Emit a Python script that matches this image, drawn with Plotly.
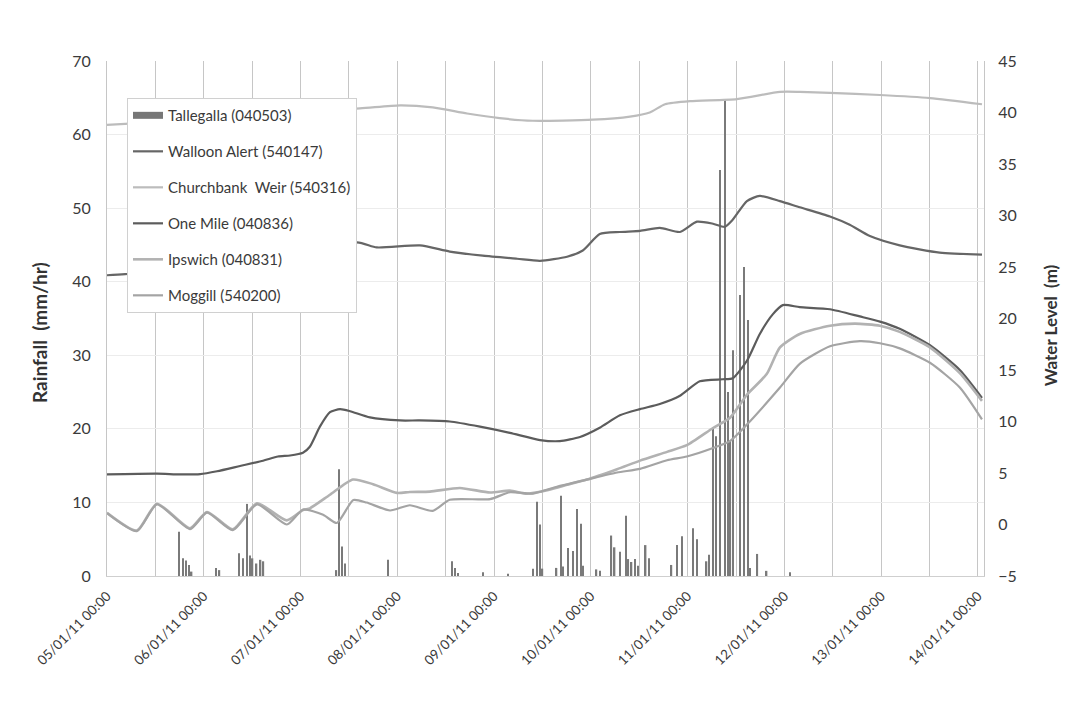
import pandas as pd
import plotly.graph_objects as go

# ---------------- data ----------------
T0 = pd.Timestamp("2011-01-05 00:00")

# Tallegalla rainfall (hours after 05/01/11 00:00, mm/hr)
rain_hours = [17.9, 18.8, 19.6, 20.3, 21.0, 27.1, 27.9, 32.8, 33.7, 34.8, 35.5, 36.1, 37.1, 38.1, 38.8,
              56.9, 57.6, 58.3, 59.0, 69.7, 85.5, 86.3, 87.1, 93.3, 99.4, 105.6, 106.6, 107.4, 108.0,
              111.5, 112.6, 113.1, 114.4, 115.5, 116.5, 117.5, 118.1, 121.4, 122.3, 125.1, 125.9, 127.2,
              128.7, 129.3, 130.1, 130.9, 131.7, 133.6, 134.4, 140.0, 141.3, 142.6, 145.4, 146.4, 148.7,
              149.3, 150.3, 151.0, 152.0, 153.2, 154.0, 154.6, 155.3, 157.0, 158.0, 159.0, 159.5, 161.3,
              163.6, 169.4]
rain_mm = [6.0, 2.4, 2.1, 1.5, 0.6, 1.1, 0.8, 3.1, 2.4, 9.8, 2.8, 2.4, 1.7, 2.2, 2.0,
           0.8, 14.5, 4.0, 1.7, 2.2, 2.0, 1.1, 0.4, 0.5, 0.3, 1.0, 10.1, 7.0, 1.0,
           1.1, 10.9, 1.3, 3.8, 3.4, 9.1, 7.1, 1.4, 0.9, 0.7, 5.5, 3.9, 3.3,
           8.2, 2.3, 1.9, 2.3, 1.4, 4.2, 2.4, 1.5, 4.2, 5.4, 6.5, 5.0, 2.0,
           2.9, 20.2, 19.0, 55.2, 64.8, 25.0, 18.4, 30.7, 38.2, 42.0, 34.8, 1.1, 3.0,
           0.7, 0.5]

# Walloon Alert (540147) water level (m)
walloon_hours = [0, 4.5, 62.0, 66.9, 77.6, 85.0, 93.2, 101.7, 107.4, 114.1, 118.0, 122.2, 127.2, 132.2,
                 137.1, 142.1, 146.3, 150.3, 153.2, 155.2, 158.7, 161.9, 166.9, 171.8, 179.3, 184.2,
                 189.2, 196.6, 206.5, 217.0]
walloon_m = [24.2, 24.3, 27.4, 26.9, 27.1, 26.5, 26.1, 25.8, 25.6, 26.0, 26.6, 28.2, 28.4, 28.5,
             28.8, 28.4, 29.4, 29.2, 28.9, 29.6, 31.4, 31.9, 31.4, 30.8, 29.9, 29.1,
             28.0, 27.1, 26.4, 26.2]

# Churchbank Weir (540316)
church_hours = [0, 4.5, 62.7, 72.7, 80.8, 89.3, 97.4, 105.6, 120.5, 129.7, 134.6, 138.4, 144.6, 156.2,
                166.9, 171.8, 179.3, 191.7, 204.1, 217.0]
church_m = [38.8, 38.9, 40.4, 40.7, 40.5, 39.9, 39.45, 39.2, 39.3, 39.6, 40.0, 40.8, 41.1, 41.3,
            42.0, 42.0, 41.9, 41.7, 41.4, 40.8]

# One Mile (040836)
onemile_hours = [0, 12.4, 18.1, 23.1, 27.3, 33.0, 38.7, 42.4, 45.4, 48.6, 50.3, 52.8, 55.3, 57.8, 60.3,
                 65.2, 72.7, 77.6, 85.0, 92.5, 99.9, 107.4, 112.3, 117.3, 122.2, 127.2, 132.2, 137.1,
                 142.1, 147.0, 152.7, 155.2, 158.7, 161.9, 165.1, 167.6, 171.8, 179.3, 186.7, 191.7,
                 196.6, 204.1, 211.5, 217.0]
onemile_m = [4.86, 4.93, 4.86, 4.89, 5.17, 5.68, 6.19, 6.6, 6.7, 6.97, 7.55, 9.5, 10.9, 11.2, 11.0,
             10.4, 10.1, 10.1, 10.0, 9.5, 8.9, 8.2, 8.1, 8.5, 9.4, 10.6, 11.2, 11.7,
             12.5, 13.9, 14.1, 14.2, 15.9, 18.5, 20.4, 21.3, 21.1, 20.9, 20.2, 19.7,
             19.0, 17.4, 15.0, 12.3]

# Ipswich (040831)
ipswich_hours = [0, 7.4, 12.4, 20.6, 24.8, 31.2, 37.2, 44.6, 48.6, 50.3, 55.3, 61.0, 66.0, 71.9, 75.1,
                 80.1, 87.5, 95.0, 99.9, 104.1, 107.4, 114.1, 119.0, 126.5, 132.2, 138.9, 143.8, 150.3,
                 154.5, 158.7, 163.6, 166.9, 171.8, 179.3, 185.5, 191.7, 196.6, 204.1, 211.5, 217.0]
ipswich_m = [1.14, -0.59, 2.02, -0.36, 1.22, -0.47, 2.05, 0.4, 1.4, 1.57, 2.89, 4.37, 3.91, 3.07, 3.16,
             3.19, 3.55, 3.1, 3.29, 2.99, 3.17, 3.85, 4.36, 5.37, 6.2, 7.05, 7.7, 9.37,
             10.36, 12.6, 14.6, 17.2, 18.5, 19.3, 19.5, 19.3, 18.7, 17.2, 14.7, 12.0]

# Moggill (540200)
moggill_hours = [0, 7.4, 12.4, 20.6, 24.8, 31.2, 37.2, 44.6, 48.6, 53.6, 57.0, 61.1, 64.4, 70.2, 75.1,
                 80.8, 85.0, 95.0, 99.9, 105.6, 111.6, 119.0, 126.5, 132.2, 138.9, 143.8, 150.3, 154.5,
                 158.7, 166.9, 171.8, 179.3, 186.7, 191.7, 196.6, 204.1, 211.5, 217.0]
moggill_m = [1.1, -0.65, 1.95, -0.45, 1.15, -0.55, 1.95, 0.0, 1.45, 0.94, 0.15, 2.37, 2.13, 1.36, 1.87,
             1.32, 2.4, 2.46, 3.13, 3.0, 3.67, 4.36, 5.05, 5.4, 6.24, 6.6, 7.43, 8.1,
             9.7, 13.3, 15.6, 17.3, 17.8, 17.6, 17.1, 15.7, 13.3, 10.2]


def to_time(hours):
    return [T0 + pd.Timedelta(hours=h) for h in hours]


FONT = "Lato, Carlito, 'Liberation Sans', sans-serif"
GRID_V = "#c6c6c6"
BAR_COLOR = "#7a7a7a"

fig = go.Figure()
fig.add_trace(go.Bar(
    x=to_time(rain_hours), y=rain_mm, name="Tallegalla (040503)",
    marker=dict(color=BAR_COLOR, line=dict(width=0)),
    width=0.35 * 3600 * 1000, showlegend=False,
))
# legend key drawn as a wide bar swatch, as in the original chart
fig.add_trace(go.Scatter(
    x=[None], y=[None], mode="lines", name="Tallegalla (040503)",
    line=dict(color="#777777", width=7), legendgroup="g1",
))

lines = [
    ("Walloon Alert (540147)", walloon_hours, walloon_m, "#666666", 2.2),
    ("Churchbank&nbsp;&nbsp;Weir (540316)", church_hours, church_m, "#bcbcbc", 2.2),
    ("One Mile (040836)", onemile_hours, onemile_m, "#5c5c5c", 2.2),
    ("Ipswich (040831)", ipswich_hours, ipswich_m, "#b2b2b2", 2.6),
    ("Moggill (540200)", moggill_hours, moggill_m, "#a4a4a4", 2.2),
]
for i, (name, hrs, vals, col, w) in enumerate(lines):
    fig.add_trace(go.Scatter(
        x=to_time(hrs), y=vals, name=name, yaxis="y2", mode="lines",
        line=dict(color=col, width=w, shape="spline", smoothing=0.6),
        legendgroup=f"g{i + 2}",
    ))

fig.update_layout(
    width=1058, height=693,
    margin=dict(l=99, r=82, t=53, b=125),
    paper_bgcolor="white", plot_bgcolor="white",
    font=dict(family=FONT, size=14, color="#3a3a3a"),
    showlegend=True,
    xaxis=dict(
        range=[T0, T0 + pd.Timedelta(hours=217.5)],
        type="date", tick0=T0, dtick=86400000,
        tickformat="%d/%m/%y %H:%M", tickangle=-45,
        tickfont=dict(size=13.5),
        showgrid=True, gridcolor=GRID_V, gridwidth=1,
        minor=dict(dtick=43200000, tick0=T0, showgrid=True, gridcolor=GRID_V, gridwidth=1),
        showline=True, linecolor="#cfcfcf", ticks="", ticklabelstandoff=6,
        zeroline=False,
    ),
    yaxis=dict(
        range=[0, 70], dtick=10, tick0=0,
        showgrid=True, gridcolor="#ececec", zeroline=False,
        showline=True, linecolor="#c6c6c6",
        ticks="", ticklabelstandoff=12, tickfont=dict(size=16),
    ),
    yaxis2=dict(
        range=[-5, 45], dtick=5, tick0=-5,
        overlaying="y", side="right",
        showgrid=False, zeroline=False,
        showline=True, linecolor="#c6c6c6",
        ticks="", ticklabelstandoff=10, tickfont=dict(size=16),
    ),
    legend=dict(
        x=0.0228, y=0.928, xanchor="left", yanchor="top",
        bgcolor="white", bordercolor="#d0d0d0", borderwidth=1,
        font=dict(size=15, color="#3a3a3a"), tracegroupgap=13.5, traceorder="grouped",
        itemwidth=30,
    ),
    annotations=[
        dict(text="<b>Rainfall&nbsp;&nbsp;(mm/hr)</b>", textangle=-90, showarrow=False,
             xref="paper", yref="paper", x=-0.0764, y=0.4738,
             xanchor="center", yanchor="middle", font=dict(size=19, color="#333333")),
        dict(text="<b>Water Level&nbsp;&nbsp;(m)</b>", textangle=-90, showarrow=False,
             xref="paper", yref="paper", x=1.0753, y=0.487,
             xanchor="center", yanchor="middle", font=dict(size=17, color="#333333")),
    ],
)

fig.write_html("out.html")
